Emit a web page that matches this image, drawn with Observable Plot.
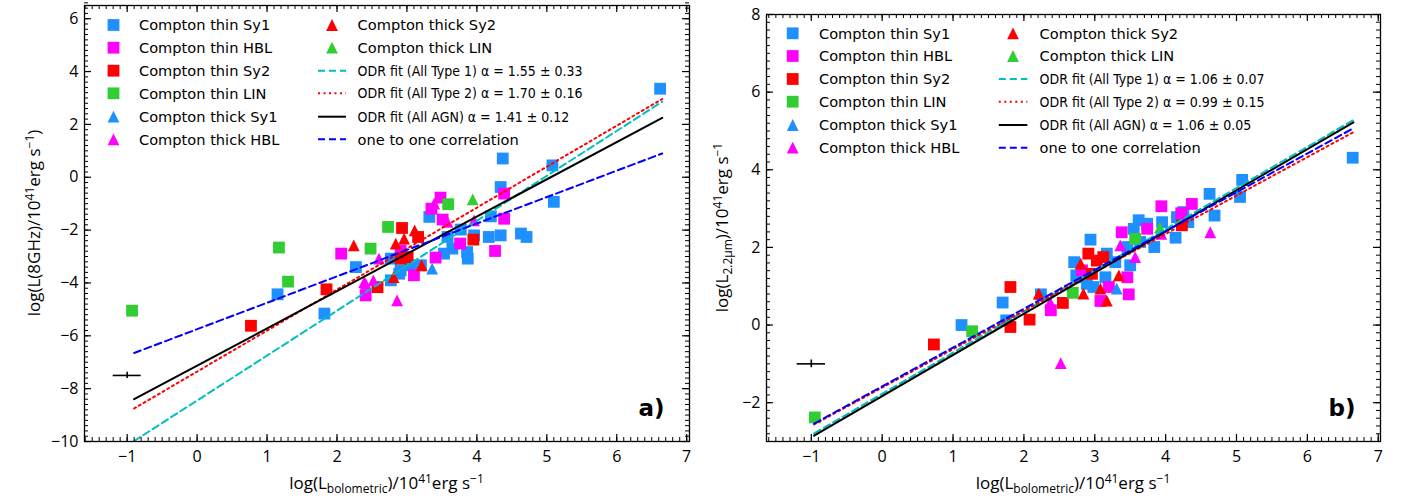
<!DOCTYPE html>
<html><head><meta charset="utf-8">
<script src="https://cdn.jsdelivr.net/npm/d3@7"></script>
<script src="https://cdn.jsdelivr.net/npm/@observablehq/plot@0.6"></script>
<style>
body{margin:0;background:#fff;}
#wrap{position:relative;width:1402px;height:500px;overflow:hidden;}
#wrap svg{position:absolute;top:0;}
</style></head><body><div id="wrap"></div>
<script>
// ---------- categories ----------
const categories = ["Compton thin Sy1","Compton thin HBL","Compton thin Sy2","Compton thin LIN","Compton thick Sy1","Compton thick HBL","Compton thick Sy2","Compton thick LIN"];
const catColors = ["#1E90FF","#FF00FF","#FF0000","#32CD32","#1E90FF","#FF00FF","#FF0000","#32CD32"];
const catShapes = ["square","square","square","square","triangle","triangle","triangle","triangle"];

// ---------- panel a: log L(8GHz) vs log L_bol ----------
const a_thinSy1 = [[1.15,-4.43],[1.82,-5.16],[2.27,-3.40],[2.77,-3.08],[2.77,-3.9],[4.37,0.71],[5.08,0.45],[4.34,-0.37],[5.10,-0.93],[3.32,-1.5],[4.2,-1.48],[4.17,-2.26],[4.34,-2.2],[4.63,-2.13],[4.71,-2.26],[3.96,-2.2],[3.77,-1.98],[3.86,-2.83],[3.87,-3.08],[3.65,-2.70],[3.53,-2.89],[3.58,-2.26],[2.91,-3.52],[3.05,-3.33],[3.2,-3.33],[2.89,-3.65],[6.62,3.35]];
const a_thinHBL = [[2.06,-2.89],[2.41,-4.47],[3.48,-0.77],[3.35,-1.19],[3.51,-1.6],[4.39,-0.62],[4.39,-1.57],[3.76,-2.51],[4.26,-2.79],[2.91,-2.77],[3.1,-3.71],[3.41,-3.04]];
const a_thinSy2 = [[0.77,-5.62],[1.85,-4.24],[2.58,-4.16],[2.93,-1.92],[3.16,-2.26],[3.95,-2.36],[2.91,-3.08],[3.01,-3.02]];
const a_thinLIN = [[-0.93,-5.05],[1.17,-2.66],[1.30,-3.95],[2.48,-2.70],[2.73,-1.88],[3.59,-1.02]];
const a_thickSy1 = [[3.36,-3.46]];
const a_thickHBL = [[2.6,-3.08],[2.39,-3.97],[2.52,-3.9],[2.86,-4.66],[3.39,-1.0],[3.58,-1.69],[3.96,-1.63],[2.41,-4.03]];
const a_thickSy2 = [[2.24,-2.58],[2.84,-2.51],[2.81,-3.78],[3.11,-2.01],[2.96,-2.32],[3.21,-3.33]];
const a_thickLIN = [[3.94,-0.84]];
// fit line end points
const a_fitType1 = [[-0.9,-9.98],[6.65,2.86]];
const a_fitType2 = [[-0.9,-8.75],[6.65,2.96]];
const a_fitAll   = [[-0.9,-8.40],[6.65,2.25]];
const a_oneToOne = [[-0.9,-6.65],[6.65,0.90]];
const a_errX = [-1, -7.5, 0.2, 0.12]; // x, y, xerr, yerr
const a_fitLabels = ["ODR fit (All Type 1) α = 1.55 ± 0.33","ODR fit (All Type 2) α = 1.70 ± 0.16","ODR fit (All AGN) α = 1.41 ± 0.12","one to one correlation"];

// ---------- panel b: log L(2.2um) vs log L_bol ----------
const b_thinSy1 = [[6.64,4.31],[5.08,3.74],[5.05,3.3],[4.62,3.38],[4.69,2.82],[4.25,2.91],[4.32,2.65],[4.16,2.78],[4.14,2.25],[3.95,2.65],[3.62,2.7],[3.74,2.61],[3.55,2.48],[3.64,2.14],[3.84,2.01],[2.94,2.2],[3.46,2.01],[3.17,1.84],[3.29,1.62],[3.5,1.54],[2.71,1.62],[2.74,1.28],[2.75,1.23],[3.15,1.23],[2.98,0.98],[2.89,1.06],[2.24,0.79],[1.70,0.58],[1.75,0.12],[1.12,0.0]];
const b_thinHBL = [[4.37,3.12],[4.22,2.88],[3.94,3.06],[3.74,2.48],[3.38,2.39],[2.82,1.41],[3.46,1.23],[3.48,0.79],[3.08,0.62],[3.2,0.98],[2.38,0.38]];
const b_thinSy2 = [[4.23,2.57],[2.91,1.84],[3.03,1.66],[3.12,1.75],[2.96,1.32],[2.55,0.57],[1.81,0.98],[1.81,-0.05],[2.08,0.14],[0.73,-0.5]];
const b_thinLIN = [[3.57,2.22],[2.69,0.83],[1.27,-0.16],[-0.95,-2.38]];
const b_thickSy1 = [[3.31,0.94]];
const b_thickHBL = [[4.63,2.39],[3.94,2.35],[3.36,2.05],[3.57,1.75],[2.37,0.59],[2.52,-0.98]];
const b_thickSy2 = [[2.8,1.58],[3.34,1.28],[3.17,0.63],[3.08,0.94],[2.84,0.81],[2.21,0.81]];
const b_thickLIN = [[3.92,2.51]];
const b_fitType1 = [[-0.96,-2.79],[6.65,5.28]];
const b_fitType2 = [[-0.96,-2.56],[6.65,4.97]];
const b_fitAll   = [[-0.96,-2.85],[6.65,5.22]];
const b_oneToOne = [[-0.96,-2.54],[6.65,5.07]];
const b_errX = [-1, -1, 0.2, 0.1];
const b_fitLabels = ["ODR fit (All Type 1) α = 1.06 ± 0.07","ODR fit (All Type 2) α = 0.99 ± 0.15","ODR fit (All AGN) α = 1.06 ± 0.05","one to one correlation"];

// ticks
const xMajor = [-1,0,1,2,3,4,5,6,7];
const a_yMajor = [-10,-8,-6,-4,-2,0,2,4,6];
const b_yMajor = [-2,0,2,4,6,8];

// ---------- styles ----------
const fitStyles = [
  {stroke:"#00BFBF", dash:"7,4"},
  {stroke:"#FF0000", dash:"2,3.5"},
  {stroke:"#000000", dash:null},
  {stroke:"#0000FF", dash:"7,4"}
];
const R_SQ = 5.9, R_TR = 5.9;
const mplSquare = {draw(ctx, size){ const h = Math.sqrt(size/Math.PI); ctx.moveTo(-h,-h); ctx.lineTo(h,-h); ctx.lineTo(h,h); ctx.lineTo(-h,h); ctx.closePath(); }};
const mplTriangle = {draw(ctx, size){ const h = Math.sqrt(size/Math.PI); ctx.moveTo(0,-h); ctx.lineTo(h,h); ctx.lineTo(-h,h); ctx.closePath(); }};
const symFor = s => s === "square" ? mplSquare : mplTriangle;
const rFor = s => s === "square" ? R_SQ : R_TR;

function range(a, b, step){ const out=[]; const n=Math.round((b-a)/step); for(let i=0;i<=n;i++) out.push(+(a+i*step).toFixed(4)); return out; }

function richText(sel, parts, size){
  let shift = 0;
  parts.forEach(([t,k])=>{
    const target = k==="sub" ? 4 : k==="sup" ? -6 : 0;
    const ts = sel.append("tspan").text(t).attr("dy", target - shift);
    if (k !== "n") ts.attr("font-size", Math.round(size*0.7));
    shift = target;
  });
}

function panel(o){
  const fh = 500 - o.mt - o.mb;
  const fw = o.width - o.ml - o.mr;
  const marks = [];
  o.series.forEach((pts,i)=>{
    marks.push(Plot.dot(pts, {x:d=>d[0], y:d=>d[1], symbol: symFor(catShapes[i]), r: rFor(catShapes[i]), fill: catColors[i], stroke:"none"}));
  });
  o.fits.forEach((f,i)=>{
    marks.push(Plot.line(f, {x:d=>d[0], y:d=>d[1], stroke: fitStyles[i].stroke, strokeWidth: 2, strokeDasharray: fitStyles[i].dash || undefined}));
  });
  const e = o.err;
  marks.push(Plot.ruleY([e], {y:d=>d[1], x1:d=>d[0]-d[2], x2:d=>d[0]+d[2], stroke:"black", strokeWidth:1.6}));
  marks.push(Plot.ruleX([e], {x:d=>d[0], y1:d=>d[1]-d[3], y2:d=>d[1]+d[3], stroke:"black", strokeWidth:1.6}));
  const xMin = range(-1.6, 7.0, 0.1).filter(v => v >= o.xd[0] && v <= o.xd[1]);
  const yMin = range(o.yd[0], o.yd[1], 0.2);
  const MJ = 7, MN = 4;
  marks.push(Plot.tickX(xMin, {x:d=>d, insetTop: fh-MN, stroke:"black"}));
  marks.push(Plot.tickX(xMin, {x:d=>d, insetBottom: fh-MN, stroke:"black"}));
  marks.push(Plot.tickX(xMajor, {x:d=>d, insetTop: fh-MJ, stroke:"black", strokeWidth:1.2}));
  marks.push(Plot.tickX(xMajor, {x:d=>d, insetBottom: fh-MJ, stroke:"black", strokeWidth:1.2}));
  marks.push(Plot.tickY(yMin, {y:d=>d, insetRight: fw-MN, stroke:"black"}));
  marks.push(Plot.tickY(yMin, {y:d=>d, insetLeft: fw-MN, stroke:"black"}));
  marks.push(Plot.tickY(o.yMajor, {y:d=>d, insetRight: fw-MJ, stroke:"black", strokeWidth:1.2}));
  marks.push(Plot.tickY(o.yMajor, {y:d=>d, insetLeft: fw-MJ, stroke:"black", strokeWidth:1.2}));
  marks.push(Plot.frame({stroke:"black", strokeWidth:1.3}));
  marks.push(Plot.axisX({ticks: xMajor, tickSize:0, tickPadding:9, label:null, fontSize:16}));
  marks.push(Plot.axisY({ticks: o.yMajor, tickSize:0, tickPadding:6, label:null, fontSize:16}));
  marks.push(Plot.text([o.tag], {frameAnchor:"bottom-right", dx:-25, dy:-26, text:d=>d, fontSize:23, fontWeight:"bold", textAnchor:"end", lineAnchor:"bottom", fontFamily:"'DejaVu Sans', sans-serif"}));
  const svg = Plot.plot({
    width: o.width, height: 500,
    marginLeft: o.ml, marginRight: o.mr, marginTop: o.mt, marginBottom: o.mb,
    x: {domain: o.xd}, y: {domain: o.yd},
    style: {fontFamily:"'Open Sans', sans-serif", fontSize:"16px", color:"black", background:"white"},
    marks
  });
  svg.style.left = o.left + "px";
  const s = d3.select(svg);
  const xl = s.append("text").attr("x", o.ml + fw/2).attr("y", 489).attr("text-anchor","middle")
    .attr("font-family","'Open Sans', sans-serif").attr("font-size",17).attr("fill","black");
  richText(xl, [["log(L","n"],["bolometric","sub"],[")/10","n"],["41","sup"],["erg s","n"],["−1","sup"]], 17);
  const yl = s.append("text").attr("transform", `translate(${o.ylx},${o.mt + fh/2}) rotate(-90)`).attr("text-anchor","middle")
    .attr("font-family","'Open Sans', sans-serif").attr("font-size",17).attr("fill","black");
  richText(yl, o.ylabel, 17);
  // legend
  const g = s.append("g").attr("font-family","'DejaVu Sans', sans-serif").attr("fill","black").attr("text-anchor","start");
  const L = o.leg;
  const mark = (shape, color, cx, cy) => {
    const p = d3.path(); symFor(shape).draw(p, Math.PI*rFor(shape)**2);
    g.append("path").attr("d", p.toString()).attr("transform", `translate(${cx},${cy})`).attr("fill", color);
  };
  const FS = 14.6;
  for (let i=0;i<6;i++){
    mark(catShapes[i], catColors[i], L.m1, L.rows[i]);
    g.append("text").attr("x", L.t1).attr("y", L.rows[i]).attr("dy","0.36em").attr("text-anchor","start").attr("font-size",FS).text(categories[i]);
  }
  for (let i=6;i<8;i++){
    mark(catShapes[i], catColors[i], L.m2, L.rows[i-6]);
    g.append("text").attr("x", L.t2).attr("y", L.rows[i-6]).attr("dy","0.36em").attr("text-anchor","start").attr("font-size",FS).text(categories[i]);
  }
  o.fitLabels.forEach((lab,i)=>{
    const y = L.rows[i+2];
    g.append("line").attr("x1", L.l0).attr("x2", L.l1).attr("y1", y).attr("y2", y)
      .attr("stroke", fitStyles[i].stroke).attr("stroke-width", 2).attr("stroke-dasharray", fitStyles[i].dash);
    const t = g.append("text").attr("x", L.t2).attr("y", y).attr("dy","0.36em").attr("text-anchor","start").text(lab);
    if (i < 3) t.attr("font-family","'DejaVu Sans Condensed', 'Liberation Sans Narrow', sans-serif").attr("font-size",14).attr("font-stretch","condensed");
    else t.attr("font-size",FS);
  });
  return svg;
}

const wrap = document.getElementById("wrap");
wrap.appendChild(panel({
  left: 0, width: 700, ml: 84, mr: 11, mt: 5, mb: 59,
  xd: [-1.61, 7.04], yd: [-10, 6.5], yMajor: a_yMajor,
  series: [a_thinSy1,a_thinHBL,a_thinSy2,a_thinLIN,a_thickSy1,a_thickHBL,a_thickSy2,a_thickLIN],
  fits: [a_fitType1,a_fitType2,a_fitAll,a_oneToOne], err: a_errX, fitLabels: a_fitLabels, tag: "a)",
  ylx: 40, ylabel: [["log(L(8GHz)/10","n"],["41","sup"],["erg s","n"],["−1","sup"],[")","n"]],
  leg: {m1: 113.5, t1: 139, m2: 332, t2: 357.6, l0: 318, l1: 346, rows: [25,47.7,70.7,93.3,116.7,139.3]}
}));
wrap.appendChild(panel({
  left: 700, width: 702, ml: 66, mr: 22, mt: 14, mb: 59,
  xd: [-1.632, 7.032], yd: [-3, 8], yMajor: b_yMajor,
  series: [b_thinSy1,b_thinHBL,b_thinSy2,b_thinLIN,b_thickSy1,b_thickHBL,b_thickSy2,b_thickLIN],
  fits: [b_fitType1,b_fitType2,b_fitAll,b_oneToOne], err: b_errX, fitLabels: b_fitLabels, tag: "b)",
  ylx: 28, ylabel: [["log(L","n"],["2.2μm","sub"],[")/10","n"],["41","sup"],["erg s","n"],["−1","sup"]],
  leg: {m1: 92.7, t1: 119, m2: 313, t2: 339.6, l0: 298.8, l1: 327.3, rows: [33.3,56,79,101.7,125,147.7]}
}));
</script></body></html>
